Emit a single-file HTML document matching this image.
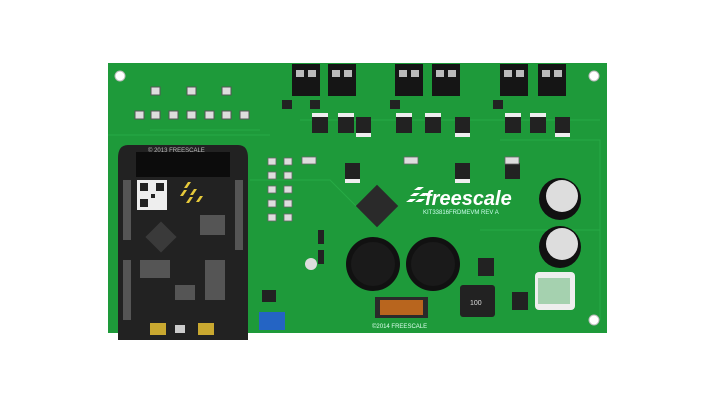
<!DOCTYPE html>
<html><head><style>html,body{margin:0;padding:0;background:#fff;width:720px;height:405px;overflow:hidden}</style></head>
<body>
<svg width="720" height="405" viewBox="0 0 720 405" xmlns="http://www.w3.org/2000/svg" font-family="Liberation Sans, sans-serif">
<rect width="720" height="405" fill="#fff"/>
<rect x="108" y="63" width="499" height="270" fill="#1e9a3a"/>
<g fill="none" stroke="#2bb04a" stroke-width="1" opacity="0.7">
<path d="M108 135 H270 M150 130 H260 M300 120 H600 M250 180 L330 180 L360 210 M480 230 H600 M500 140 H600 V320"/>
</g>
<g fill="#fff" stroke="#bbb"><circle cx="120" cy="76" r="5"/><circle cx="594" cy="76" r="5"/><circle cx="594" cy="320" r="5"/></g>
<g fill="#ddd" stroke="#555" stroke-width="1">
<rect x="151" y="87" width="9" height="8"/><rect x="187" y="87" width="9" height="8"/><rect x="222" y="87" width="9" height="8"/>
<rect x="135" y="111" width="9" height="8"/><rect x="151" y="111" width="9" height="8"/><rect x="169" y="111" width="9" height="8"/><rect x="187" y="111" width="9" height="8"/><rect x="205" y="111" width="9" height="8"/><rect x="222" y="111" width="9" height="8"/><rect x="240" y="111" width="9" height="8"/>
</g>
<g fill="#151515">
<rect x="292" y="64" width="28" height="32"/><rect x="328" y="64" width="28" height="32"/>
<rect x="395" y="64" width="28" height="32"/><rect x="432" y="64" width="28" height="32"/>
<rect x="500" y="64" width="28" height="32"/><rect x="538" y="64" width="28" height="32"/>
</g>
<g fill="#bbb">
<rect x="296" y="70" width="8" height="7"/><rect x="308" y="70" width="8" height="7"/><rect x="332" y="70" width="8" height="7"/><rect x="344" y="70" width="8" height="7"/>
<rect x="399" y="70" width="8" height="7"/><rect x="411" y="70" width="8" height="7"/><rect x="436" y="70" width="8" height="7"/><rect x="448" y="70" width="8" height="7"/>
<rect x="504" y="70" width="8" height="7"/><rect x="516" y="70" width="8" height="7"/><rect x="542" y="70" width="8" height="7"/><rect x="554" y="70" width="8" height="7"/>
</g>
<g fill="#eee">
<rect x="312" y="113" width="16" height="4"/><rect x="338" y="113" width="16" height="4"/><rect x="396" y="113" width="16" height="4"/><rect x="425" y="113" width="16" height="4"/><rect x="505" y="113" width="16" height="4"/><rect x="530" y="113" width="16" height="4"/>
<rect x="356" y="133" width="15" height="4"/><rect x="455" y="133" width="15" height="4"/><rect x="555" y="133" width="15" height="4"/>
<rect x="345" y="179" width="15" height="4"/><rect x="455" y="179" width="15" height="4"/>
</g>
<g fill="#222">
<rect x="312" y="117" width="16" height="16"/><rect x="338" y="117" width="16" height="16"/><rect x="356" y="117" width="15" height="16"/>
<rect x="396" y="117" width="16" height="16"/><rect x="425" y="117" width="16" height="16"/><rect x="455" y="117" width="15" height="16"/>
<rect x="505" y="117" width="16" height="16"/><rect x="530" y="117" width="16" height="16"/><rect x="555" y="117" width="15" height="16"/>
<rect x="345" y="163" width="15" height="16"/><rect x="455" y="163" width="15" height="16"/><rect x="505" y="163" width="15" height="16"/>
<rect x="282" y="100" width="10" height="9"/><rect x="310" y="100" width="10" height="9"/><rect x="390" y="100" width="10" height="9"/><rect x="493" y="100" width="10" height="9"/>
<rect x="478" y="258" width="16" height="18"/><rect x="512" y="292" width="16" height="18"/><rect x="262" y="290" width="14" height="12"/>
</g>
<g fill="#ddd" stroke="#666" stroke-width="0.8">
<rect x="268" y="158" width="8" height="7"/><rect x="284" y="158" width="8" height="7"/><rect x="268" y="172" width="8" height="7"/><rect x="284" y="172" width="8" height="7"/><rect x="268" y="186" width="8" height="7"/><rect x="284" y="186" width="8" height="7"/><rect x="268" y="200" width="8" height="7"/><rect x="284" y="200" width="8" height="7"/><rect x="268" y="214" width="8" height="7"/><rect x="284" y="214" width="8" height="7"/>
<rect x="302" y="157" width="14" height="7"/><rect x="404" y="157" width="14" height="7"/><rect x="505" y="157" width="14" height="7"/>
</g>
<rect x="362" y="191" width="30" height="30" fill="#2a2a2a" transform="rotate(45 377 206)"/>
<g fill="#fff"><path d="M414 190 l4 -3 h6 l-4 3z M410 196 l4 -3 h6 l-4 3z M419 196 l4 -3 h6 l-4 3z M406 202 l4 -3 h6 l-4 3z M415 202 l4 -3 h6 l-4 3z"/></g>
<text x="425" y="205" fill="#fff" font-size="20" font-weight="bold" font-style="italic">freescale</text>
<text x="423" y="214" fill="#cfe" font-size="6">KIT33816FRDMEVM REV A</text>
<circle cx="373" cy="264" r="27" fill="#111"/><circle cx="373" cy="264" r="22" fill="#1a1a1a"/>
<circle cx="433" cy="264" r="27" fill="#111"/><circle cx="433" cy="264" r="22" fill="#1a1a1a"/>
<circle cx="560" cy="199" r="21" fill="#111"/><circle cx="562" cy="196" r="16" fill="#ddd"/>
<circle cx="560" cy="247" r="21" fill="#111"/><circle cx="562" cy="244" r="16" fill="#ddd"/>
<rect x="375" y="297" width="53" height="21" fill="#2a2a2a"/>
<rect x="380" y="300" width="43" height="15" fill="#b8651e"/>
<rect x="460" y="285" width="35" height="32" rx="3" fill="#222"/>
<text x="470" y="305" fill="#ddd" font-size="7">100</text>
<g fill="#eee"><rect x="535" y="272" width="40" height="38" rx="4"/></g>
<rect x="538" y="278" width="32" height="26" fill="#1e9a3a" opacity="0.35"/>
<text x="372" y="328" fill="#dfe" font-size="6">©2014 FREESCALE</text>
<rect x="259" y="312" width="26" height="18" fill="#2464c4"/>
<rect x="318" y="230" width="6" height="14" fill="#222"/><rect x="318" y="250" width="6" height="14" fill="#222"/>
<circle cx="311" cy="264" r="6" fill="#ddd"/>
<path d="M128 145 H238 Q248 145 248 158 V340 H118 V158 Q118 145 128 145 Z" fill="#222"/>
<rect x="136" y="152" width="94" height="25" fill="#0c0c0c"/>
<text x="148" y="152" fill="#bbb" font-size="6">© 2013 FREESCALE</text>
<rect x="137" y="180" width="30" height="30" fill="#eee"/>
<g fill="#222"><rect x="140" y="183" width="8" height="8"/><rect x="156" y="183" width="8" height="8"/><rect x="140" y="199" width="8" height="8"/><rect x="151" y="194" width="4" height="4"/></g>
<g fill="#e6c93a"><path d="M184 188 l4 -6 l3 0 l-4 6z M190 195 l4 -6 l3 0 l-4 6z M196 202 l4 -6 l3 0 l-4 6z M180 196 l4 -6 l3 0 l-4 6z M186 203 l4 -6 l3 0 l-4 6z"/></g>
<rect x="150" y="226" width="22" height="22" fill="#3a3a3a" transform="rotate(45 161 237)"/>
<g fill="#555"><rect x="123" y="180" width="8" height="60"/><rect x="235" y="180" width="8" height="70"/><rect x="123" y="260" width="8" height="60"/><rect x="175" y="285" width="20" height="15"/><rect x="200" y="215" width="25" height="20"/><rect x="140" y="260" width="30" height="18"/><rect x="205" y="260" width="20" height="40"/></g>
<c/>
<g fill="#c9a830"><rect x="150" y="323" width="16" height="12"/><rect x="198" y="323" width="16" height="12"/></g>
<rect x="175" y="325" width="10" height="8" fill="#ccc"/>
</svg>
</body></html>
